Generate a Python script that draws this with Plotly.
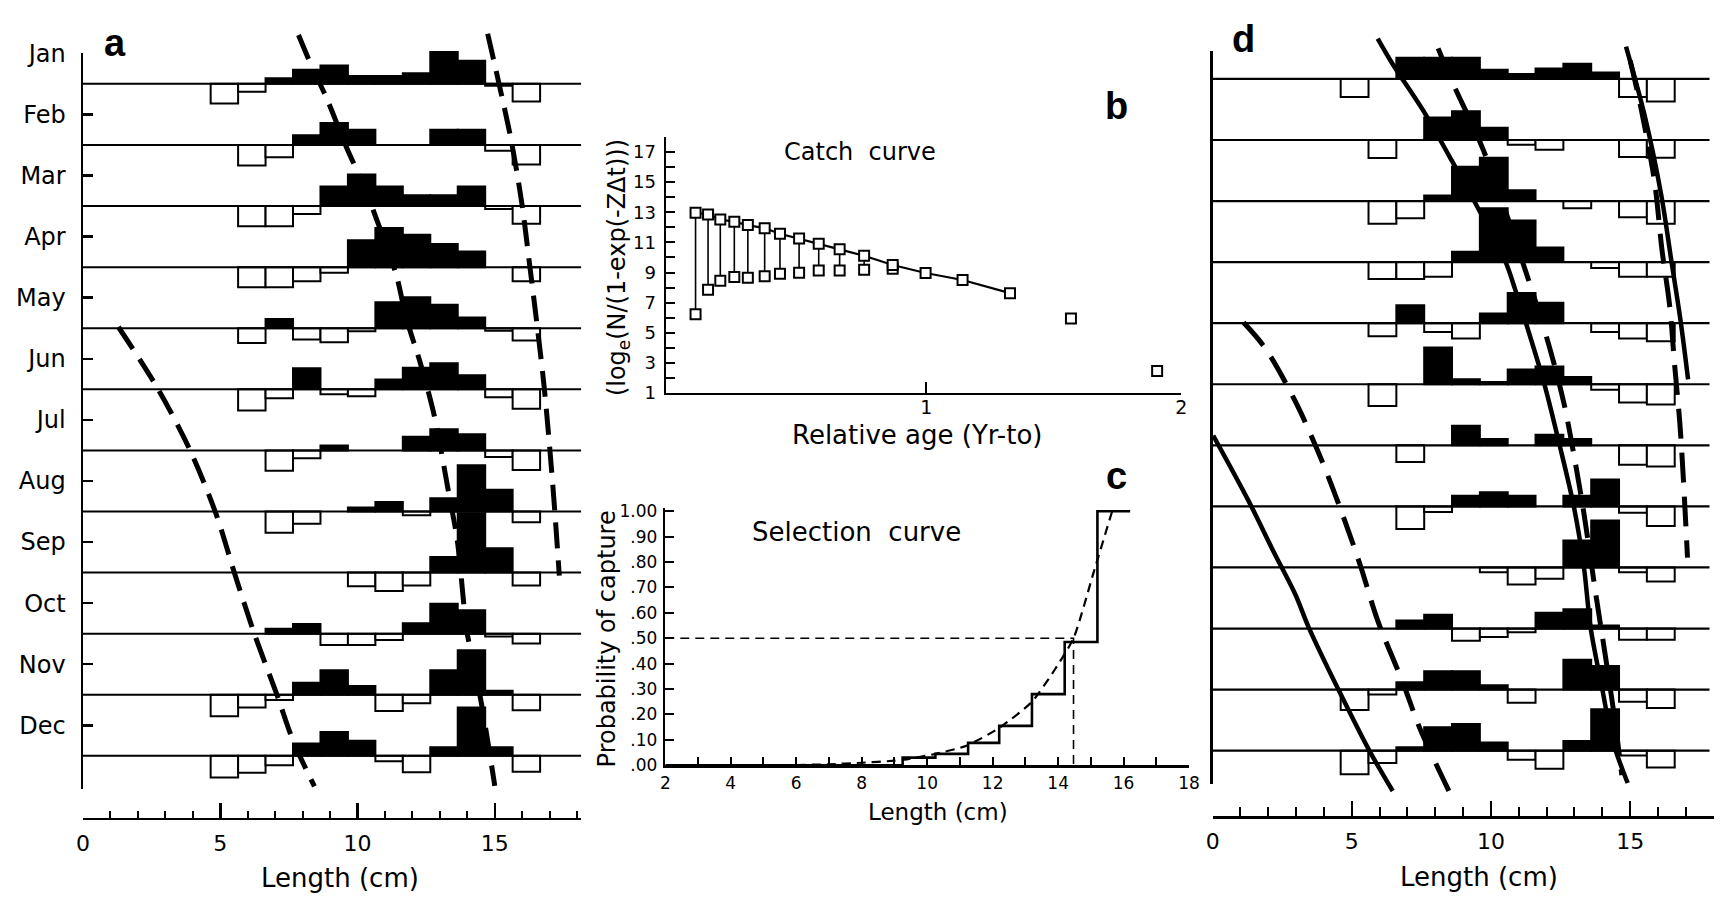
import plotly.graph_objects as go

W, H = 1732, 907
def fx(p): return min(1.0, max(0.0, p / W))
def fy(p): return min(1.0, max(0.0, 1 - p / H))

MONTHS = ["Jan", "Feb", "Mar", "Apr", "May", "Jun", "Jul", "Aug", "Sep", "Oct", "Nov", "Dec"]

# ---------------- Panel a : monthly length frequencies (restructured) ----------------
A_BINS = [5.15, 6.15, 7.15, 8.15, 9.15, 10.15, 11.15, 12.15, 13.15, 14.15, 15.15, 16.15]
a_jan = [-3.2, -1.3, 0.9, 2.3, 3.0, 1.3, 1.3, 1.75, 5.2, 3.8, -0.3, -2.9]
a_feb = [0, -3.35, -2.0, 1.6, 3.6, 2.5, 0, 0, 2.5, 2.5, -0.95, -3.2]
a_mar = [0, -3.3, -3.3, -1.3, 3.2, 5.15, 3.2, 1.75, 1.75, 3.2, -0.5, -2.9]
a_apr = [0, -3.3, -3.3, -2.3, -0.9, 4.4, 6.4, 5.3, 3.8, 2.55, 0, -2.3]
a_may = [0, -2.4, 1.5, -1.85, -2.3, -0.5, 4.25, 5.05, 3.85, 1.75, -0.4, -2.0]
a_jun = [0, -3.45, -1.45, 3.45, -0.8, -1.15, 1.6, 3.55, 4.25, 2.3, -1.3, -3.2]
a_jul = [0, 0, -3.35, -1.3, 0.8, 0, 0, 2.25, 3.45, 2.65, -1.1, -3.2]
a_aug = [0, 0, -3.5, -2.0, 0, 0.65, 1.55, -0.6, 2.15, 7.55, 3.55, -1.75]
a_sep = [0, 0, 0, 0, 0, -2.25, -3.0, -2.1, 2.55, 9.7, 4.0, -2.1]
a_oct = [0, 0, 0.8, 1.6, -1.85, -1.85, -1.05, 1.7, 4.9, 3.85, -0.45, -1.6]
a_nov = [-3.5, -2.1, -0.85, 1.95, 4.0, 1.45, -2.65, -1.4, 4.0, 7.3, 0.65, -2.55]
a_dec = [-3.55, -2.75, -1.55, 2.0, 3.9, 2.45, -0.9, -2.7, 1.4, 7.9, 1.4, -2.6]
A_ROWS = [a_jan, a_feb, a_mar, a_apr, a_may, a_jun, a_jul, a_aug, a_sep, a_oct, a_nov, a_dec]

a_c1_x = [7.85, 8.30, 8.88, 9.60, 10.23, 10.68, 11.40, 11.78, 12.30, 12.80, 13.31, 13.63, 13.84, 13.96, 14.48, 15.0]
a_c1_y = [118.0, 113.2, 107.6, 99.6, 93.3, 88.0, 78.9, 71.6, 64.1, 55.6, 43.3, 35.4, 26.3, 21.0, 9.4, -4.9]
a_c2_x = [14.74, 15.14, 15.60, 15.98, 16.28, 16.50, 16.80, 17.12, 17.35]
a_c2_y = [118.2, 110.3, 100.7, 90.6, 80.0, 72.0, 60.3, 43.9, 29.5]
a_c3_x = [1.29, 2.70, 3.86, 4.83, 5.54, 6.24, 7.08, 7.66, 8.43]
a_c3_y = [70.2, 60.3, 50.4, 39.8, 29.6, 20.0, 9.8, 2.4, -5.0]

# ---------------- Panel d ----------------
D_BINS = [5.1, 6.1, 7.1, 8.1, 9.1, 10.1, 11.1, 12.1, 13.1, 14.1, 15.1, 16.1]
d_jan = [-2.95, 0, 3.45, 3.45, 3.45, 1.5, 0.8, 1.7, 2.5, 1.05, -2.95, -3.7]
d_feb = [0, -2.95, 0, 3.7, 4.7, 2.0, -0.8, -1.6, 0, 0, -2.8, -2.9]
d_mar = [0, -3.7, -2.8, 0.9, 5.6, 7.1, 1.75, 0, -1.2, 0, -2.65, -3.7]
d_apr = [0, -2.75, -2.75, -2.4, 1.7, 8.8, 6.8, 2.4, 0, -0.95, -2.4, -2.4]
d_may = [0, -2.15, 2.95, -1.45, -2.5, 1.6, 4.95, 3.35, 0, -1.45, -2.5, -2.95]
d_jun = [0, -3.55, 0, 6.0, 0.8, 0.35, 2.4, 2.9, 1.2, -0.9, -3.0, -3.3]
d_jul = [0, 0, -2.75, 0, 3.2, 1.05, 0, 1.75, 1.05, 0, -3.2, -3.45]
d_aug = [0, 0, -3.7, -0.9, 1.75, 2.3, 1.75, 0, 1.75, 4.4, -1.05, -3.2]
d_sep = [0, 0, 0, 0, 0, -0.8, -2.8, -1.85, 4.4, 7.7, -0.8, -2.3]
d_oct = [0, 0, 1.3, 2.25, -2.0, -1.4, -0.6, 2.6, 3.15, 0.5, -1.85, -1.85]
d_nov = [-3.35, -0.8, 1.2, 3.0, 3.0, 0.7, -2.15, 0, 4.9, 3.85, -2.0, -3.0]
d_dec = [-3.85, -2.0, 0.55, 3.85, 4.35, 1.35, -1.5, -2.95, 1.6, 6.8, -0.8, -2.75]
D_ROWS = [d_jan, d_feb, d_mar, d_apr, d_may, d_jun, d_jul, d_aug, d_sep, d_oct, d_nov, d_dec]

d_s1_x = [5.93, 6.47, 7.62, 8.52, 9.42, 10.51, 10.87, 11.23, 11.90, 12.44, 12.98, 13.34, 13.58, 14.01, 14.37, 14.91]
d_s1_y = [116.6, 112.4, 104.4, 97.2, 89.8, 80.2, 75.5, 70.4, 60.3, 50.5, 39.9, 30.0, 20.1, 9.8, 1.6, -5.3]
d_d1_x = [8.10, 8.64, 9.73, 11.29, 12.08, 12.62, 12.98, 13.34, 13.77, 14.13, 14.45, 14.70]
d_d1_y = [115.0, 109.2, 98.3, 77.9, 66.4, 56.9, 48.4, 38.8, 25.5, 14.9, 5.0, -4.0]
d_s2_x = [14.85, 15.51, 16.12, 16.48, 16.82, 17.08]
d_s2_y = [115.3, 104.2, 90.9, 80.2, 70.1, 60.8]
d_d2_x = [15.00, 15.39, 15.88, 16.14, 16.42, 16.60, 16.78, 16.90, 17.06]
d_d2_y = [113.0, 105.2, 93.0, 82.1, 72.8, 63.0, 53.9, 45.4, 31.6]
d_s3_x = [0.02, 1.29, 2.20, 2.98, 3.45, 4.54, 5.63, 6.47]
d_s3_y = [51.6, 40.9, 32.5, 25.5, 20.2, 9.8, 0.0, -6.6]
d_d3_x = [1.11, 1.89, 2.98, 3.94, 4.72, 5.33, 5.93, 6.83, 7.44, 8.52]
d_d3_y = [70.1, 65.9, 57.1, 47.3, 38.0, 30.0, 21.3, 11.2, 3.7, -6.9]

# ---------------- Panel b : catch curve ----------------
b_age = [0.095, 0.144, 0.192, 0.247, 0.300, 0.366, 0.426, 0.501, 0.578, 0.660, 0.756, 0.868,
         0.997, 1.142, 1.328, 1.567, 1.905]
b_upper = [12.97, 12.85, 12.52, 12.37, 12.15, 11.94, 11.57, 11.25, 10.91, 10.54, 10.11, 9.50,
           8.97, 8.50, 7.63, 5.95, 2.46]
b_lower = [6.23, 7.85, 8.45, 8.71, 8.66, 8.75, 8.92, 8.99, 9.14, 9.14, 9.18, 9.25]
B_FIT_N = 15  # points on the fitted line

# ---------------- Panel c : selection curve ----------------
sel_edges = [2.0, 9.25, 10.25, 11.25, 12.2, 13.2, 14.2, 15.2, 16.2]
sel_vals = [0.0, 0.03, 0.045, 0.088, 0.155, 0.28, 0.485, 1.0]
sel_curve_x = [5.1, 6.0, 7.0, 8.0, 9.0, 9.3, 10.25, 11.2, 12.2, 13.2, 13.9, 14.47, 15.1, 15.65]
sel_curve_y = [0.0, 0.001, 0.004, 0.01, 0.018, 0.022, 0.045, 0.077, 0.147, 0.25, 0.377, 0.5, 0.766, 1.0]
L50 = 14.47

ROW = 10.0
fig = go.Figure()

def add_hist(bins, rows, xa, ya, xend, bw):
    xp, yp, bp, xn, yn, bn = [], [], [], [], [], []
    for i, row in enumerate(rows):
        base = (11 - i) * ROW
        for b, v in zip(bins, row):
            if v > 0:
                xp.append(b); yp.append(v); bp.append(base)
            elif v < 0:
                xn.append(b); yn.append(v); bn.append(base)
    fig.add_trace(go.Bar(x=xn, y=yn, base=bn, width=1.0, xaxis=xa, yaxis=ya,
                         marker=dict(color="white", line=dict(color="black", width=2)),
                         hoverinfo="skip"))
    fig.add_trace(go.Bar(x=xp, y=yp, base=bp, width=1.0, xaxis=xa, yaxis=ya,
                         marker=dict(color="black", line=dict(color="black", width=2)),
                         hoverinfo="skip"))
    lx, ly = [], []
    for i in range(len(rows)):
        base = (11 - i) * ROW
        lx += [0, xend, None]
        ly += [base, base, None]
    fig.add_trace(go.Scatter(x=lx, y=ly, mode="lines", xaxis=xa, yaxis=ya,
                             line=dict(color="black", width=bw), hoverinfo="skip"))

def add_curve(xs, ys, xa, ya, dash, width):
    fig.add_trace(go.Scatter(x=xs, y=ys, mode="lines", xaxis=xa, yaxis=ya,
                             line=dict(color="black", width=width, dash=dash, shape="spline", smoothing=0.9),
                             hoverinfo="skip"))

# panel a
add_hist(A_BINS, A_ROWS, "x", "y5", 18.15, 2)
add_curve(a_c1_x, a_c1_y, "x", "y5", "26px,12px", 5)
add_curve(a_c2_x, a_c2_y, "x", "y5", "26px,12px", 5)
add_curve(a_c3_x, a_c3_y, "x", "y5", "26px,12px", 5)
fig.add_trace(go.Scatter(x=[1], y=[50], mode="markers", marker=dict(opacity=0), xaxis="x", yaxis="y", hoverinfo="skip"))

# panel d
add_hist(D_BINS, D_ROWS, "x4", "y6", 17.85, 2.2)
add_curve(d_s1_x, d_s1_y, "x4", "y6", "solid", 4.5)
add_curve(d_d1_x, d_d1_y, "x4", "y6", "30px,14px", 5)
add_curve(d_s2_x, d_s2_y, "x4", "y6", "solid", 4.5)
add_curve(d_d2_x, d_d2_y, "x4", "y6", "30px,14px", 5)
add_curve(d_s3_x, d_s3_y, "x4", "y6", "solid", 4.5)
add_curve(d_d3_x, d_d3_y, "x4", "y6", "30px,14px", 5)
fig.add_trace(go.Scatter(x=[1], y=[50], mode="markers", marker=dict(opacity=0), xaxis="x4", yaxis="y4", hoverinfo="skip"))

# panel b
vx, vy = [], []
for xv, lo, hi in zip(b_age, b_lower, b_upper):
    vx += [xv, xv, None]
    vy += [lo, hi, None]
fig.add_trace(go.Scatter(x=vx, y=vy, mode="lines", xaxis="x2", yaxis="y2",
                         line=dict(color="black", width=1.6), hoverinfo="skip"))
fig.add_trace(go.Scatter(x=b_age[:B_FIT_N], y=b_upper[:B_FIT_N], mode="lines", xaxis="x2", yaxis="y2",
                         line=dict(color="black", width=2.2), hoverinfo="skip"))
sq = dict(symbol="square", size=10, color="white", line=dict(color="black", width=2))
fig.add_trace(go.Scatter(x=b_age[:len(b_lower)], y=b_lower, mode="markers", xaxis="x2", yaxis="y2",
                         marker=sq, hoverinfo="skip"))
fig.add_trace(go.Scatter(x=b_age, y=b_upper, mode="markers", xaxis="x2", yaxis="y2",
                         marker=sq, hoverinfo="skip"))

# panel c
fig.add_trace(go.Scatter(x=[sel_edges[0], L50, L50], y=[0.5, 0.5, 0.0], mode="lines", xaxis="x3", yaxis="y3",
                         line=dict(color="black", width=1.6, dash="9px,6px"), hoverinfo="skip"))
fig.add_trace(go.Scatter(x=sel_curve_x, y=sel_curve_y, mode="lines", xaxis="x3", yaxis="y3",
                         line=dict(color="black", width=2.2, dash="9px,6px", shape="spline", smoothing=0.6),
                         hoverinfo="skip"))
fig.add_trace(go.Scatter(x=sel_edges, y=sel_vals + [sel_vals[-1]], mode="lines", xaxis="x3", yaxis="y3",
                         line=dict(color="black", width=2.6, shape="hv"), hoverinfo="skip"))

FONT = "DejaVu Sans"
base_ax = dict(showgrid=False, zeroline=False, color="black", linecolor="black", tickcolor="black",
               fixedrange=True)

# panel a axes
xa = dict(base_ax, domain=[fx(76.8), fx(580.3)], range=[0, 18.15], anchor="free", position=fy(826.7),
          showline=True, linewidth=2.5, ticks="inside", tickvals=[0, 5, 10, 15], ticktext=["0", "5", "10", "15"],
          ticklen=15, tickwidth=2.5, tickfont=dict(size=22, family=FONT), ticklabelstandoff=4,
          minor=dict(tickvals=list(range(19)), ticks="inside", ticklen=7, tickwidth=2, tickcolor="black"))
ya = dict(base_ax, domain=[fy(796.5), fy(40.4)], range=[-5.5, 115], anchor="x",
          showline=True, linewidth=2.5, ticks="inside", ticklen=10, tickwidth=2.5,
          tickvals=[115 - ROW * i for i in range(12)], ticktext=MONTHS,
          tickfont=dict(size=24, family=FONT), ticklabelstandoff=10,
          minor=dict(tickvals=[-5.5], ticks="inside", ticklen=10, tickwidth=2.5, tickcolor="black"))
ya_data = dict(domain=[fy(826.7), fy(18)], range=[-10.31, 118.57], anchor="x", visible=False, fixedrange=True)

# panel d axes  (0 cm at 1218.3 px, 28.13 px per cm)
xd = dict(base_ax, domain=[fx(1218.3), fx(1724.6)], range=[0, 18], anchor="free", position=fy(825),
          showline=True, linewidth=2.5, ticks="inside", tickvals=[0, 5, 10, 15], ticktext=["0", "5", "10", "15"],
          ticklen=15, tickwidth=2.5, tickfont=dict(size=22, family=FONT), ticklabelstandoff=4,
          minor=dict(tickvals=list(range(19)), ticks="inside", ticklen=9, tickwidth=2, tickcolor="black"))
yd = dict(base_ax, domain=[fy(791.2), fy(38.4)], range=[-5.5, 114.5], anchor="x4",
          showline=True, linewidth=2.5, ticks="inside", ticklen=10, tickwidth=2.5,
          tickvals=[114.5, -5.5], showticklabels=False)
yd_data = dict(domain=[fy(825), fy(18)], range=[-10.89, 117.76], anchor="x4", visible=False, fixedrange=True)

# panel b axes
xb = dict(base_ax, domain=[fx(666), fx(1186.7)], range=[-0.0206, 2], anchor="y2",
          showline=True, linewidth=2.5, ticks="inside", ticklen=11, tickwidth=2,
          tickvals=[1, 2], ticktext=["1", "2"], tickfont=dict(size=19, family=FONT), ticklabelstandoff=-4)
yb = dict(base_ax, domain=[fy(389.3), fy(126.3)], range=[1, 18], anchor="x2",
          showline=True, linewidth=2.5, ticks="inside", ticklen=9, tickwidth=2,
          tickvals=list(range(1, 18, 2)), ticktext=[str(v) for v in range(1, 18, 2)],
          tickfont=dict(size=18, family=FONT), ticklabelstandoff=4,
          minor=dict(tickvals=list(range(2, 19, 2)), ticks="inside", ticklen=9, tickwidth=2, tickcolor="black"))

# panel c axes
xc = dict(base_ax, domain=[fx(665.2), fx(1194.5)], range=[2, 18], anchor="y3",
          showline=True, linewidth=2.5, ticks="inside", ticklen=8, tickwidth=2,
          tickvals=list(range(2, 19, 2)), ticktext=[str(v) for v in range(2, 19, 2)],
          tickfont=dict(size=17, family=FONT), ticklabelstandoff=1,
          minor=dict(tickvals=list(range(3, 18, 2)), ticks="inside", ticklen=8, tickwidth=2, tickcolor="black"))
ycv = [i / 10 for i in range(11)]
yc = dict(base_ax, domain=[fy(771.7), fy(507.7)], range=[0, 1.0115], anchor="x3",
          showline=True, linewidth=2.5, ticks="inside", ticklen=9, tickwidth=2,
          tickvals=ycv, ticktext=[("%.2f" % v).lstrip("0") if v < 1 else "1.00" for v in ycv],
          tickfont=dict(size=17, family=FONT), ticklabelstandoff=2)

def ann(text, x, y, size, bold=False, angle=0, family=FONT):
    t = "<b>%s</b>" % text if bold else text
    return dict(text=t, x=fx(x), y=fy(y), xref="paper", yref="paper", showarrow=False,
                xanchor="center", yanchor="middle", textangle=angle,
                font=dict(size=size, family=family, color="black"))

annotations = [
    ann("a", 109, 30, 38, bold=True, family="Liberation Sans"),
    ann("b", 1121, 95, 38, bold=True, family="Liberation Sans"),
    ann("c", 1121, 475, 38, bold=True, family="Liberation Sans"),
    ann("d", 1249, 26, 38, bold=True, family="Liberation Sans"),
    ann("Length (cm)", 336.6, 887, 26),
    ann("Length (cm)", 1487.6, 886, 26),
    ann("Relative age (Yr-to)", 919.7, 432, 26),
    ann("Length (cm)", 940.8, 820, 23),
    ann("(log<sub>e</sub>(N/(1-exp(-ZΔt)))", 617.4, 260, 24, angle=-90),
    ann("Probability of capture", 606, 641.7, 24, angle=-90),
    ann("Catch  curve", 862.3, 141.7, 24),
    ann("Selection  curve", 858.5, 531.7, 26),
]

fig.update_layout(
    width=W, height=H, autosize=False,
    margin=dict(l=0, r=0, t=0, b=0, pad=0),
    paper_bgcolor="white", plot_bgcolor="rgba(0,0,0,0)",
    font=dict(family=FONT, color="black"),
    showlegend=False, barmode="overlay", bargap=0,
    xaxis=xa, yaxis=ya, yaxis5=ya_data,
    xaxis4=xd, yaxis4=yd, yaxis6=yd_data,
    xaxis2=xb, yaxis2=yb,
    xaxis3=xc, yaxis3=yc,
    annotations=annotations,
)

fig.write_html("out.html", config={"displayModeBar": False, "staticPlot": True})
